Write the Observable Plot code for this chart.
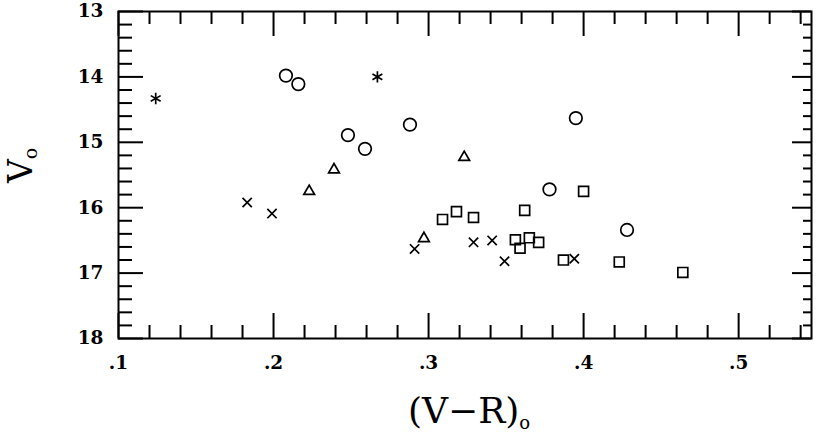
<!DOCTYPE html>
<html>
<head>
<meta charset="utf-8">
<script src="https://cdn.jsdelivr.net/npm/d3@7"></script>
<script src="https://cdn.jsdelivr.net/npm/@observablehq/plot@0.6"></script>
<style>
  html, body { margin: 0; padding: 0; background: white; }
</style>
</head>
<body>
<div id="chart"></div>
<script>
// ---- data ----
const asteriskX = [0.124, 0.267];
const asteriskY = [14.33, 14.00];
const circleX = [0.208, 0.216, 0.288, 0.248, 0.259, 0.395, 0.378, 0.428];
const circleY = [13.98, 14.11, 14.73, 14.89, 15.10, 14.63, 15.72, 16.34];
const triangleX = [0.239, 0.223, 0.323, 0.297];
const triangleY = [15.42, 15.75, 15.23, 16.47];
const timesX = [0.183, 0.199, 0.291, 0.329, 0.341, 0.349, 0.394];
const timesY = [15.92, 16.09, 16.63, 16.53, 16.50, 16.82, 16.78];
const squareX = [0.309, 0.318, 0.329, 0.362, 0.400, 0.356, 0.359, 0.365, 0.371, 0.387, 0.423, 0.464];
const squareY = [16.18, 16.06, 16.15, 16.04, 15.75, 16.49, 16.62, 16.46, 16.53, 16.80, 16.83, 16.99];

const xTicks = [0.1, 0.2, 0.3, 0.4, 0.5];
const xTickLabels = [".1", ".2", ".3", ".4", ".5"];
const yTicks = [13, 14, 15, 16, 17, 18];
const yTickLabels = ["13", "14", "15", "16", "17", "18"];
const xMinor = d3.range(0.12, 0.547, 0.02).filter(v => Math.abs(v * 10 - Math.round(v * 10)) > 1e-6);
const yMinor = d3.range(13.2, 18, 0.2).filter(v => Math.abs(v - Math.round(v)) > 1e-6);

// ---- build tables ----
const toRows = (xs, ys) => xs.map((x, i) => ({x, y: ys[i]}));
const groups = [
  {symbol: "asterisk", rows: toRows(asteriskX, asteriskY), r: 5.4},
  {symbol: "circle", rows: toRows(circleX, circleY), r: 6.3},
  {symbol: "triangle", rows: toRows(triangleX, triangleY), r: 4},
  {symbol: "times", rows: toRows(timesX, timesY), r: 4.3},
  {symbol: "square", rows: toRows(squareX, squareY), r: 5.6}
];

const W = 817, H = 433;
const mL = 118, mR = 6, mT = 11, mB = 95;
const pW = W - mL - mR, pH = H - mT - mB;

const tickStyle = {stroke: "black", strokeWidth: 2};

const svg = Plot.plot({
  width: W,
  height: H,
  marginLeft: mL,
  marginRight: mR,
  marginTop: mT,
  marginBottom: mB,
  style: {fontFamily: "DejaVu Serif", fontSize: "18.5px", background: "white", color: "black"},
  x: {domain: [0.1, 0.547], label: null},
  y: {domain: [13, 18], reverse: true, label: null},
  marks: [
    Plot.axisX(xTicks, {tickSize: 0, tickPadding: 17, tickFormat: d => xTickLabels[xTicks.indexOf(d)], fontSize: 18.5, fontWeight: "bold", label: null}),
    Plot.axisY(yTicks, {tickSize: 0, tickPadding: 15, tickFormat: d => yTickLabels[yTicks.indexOf(d)], fontSize: 18.5, fontWeight: "bold", label: null}),
    // top / bottom ticks
    Plot.tickX(xTicks, {x: d => d, insetBottom: pH - 25, ...tickStyle}),
    Plot.tickX(xMinor, {x: d => d, insetBottom: pH - 13, ...tickStyle}),
    Plot.tickX(xTicks, {x: d => d, insetTop: pH - 25, ...tickStyle}),
    Plot.tickX(xMinor, {x: d => d, insetTop: pH - 13, ...tickStyle}),
    // left / right ticks
    Plot.tickY(yTicks, {y: d => d, insetRight: pW - 25, ...tickStyle}),
    Plot.tickY(yMinor, {y: d => d, insetRight: pW - 14, ...tickStyle}),
    Plot.tickY(yTicks, {y: d => d, insetLeft: pW - 19, ...tickStyle}),
    Plot.tickY(yMinor, {y: d => d, insetLeft: pW - 8, ...tickStyle}),
    Plot.frame({stroke: "black", strokeWidth: 2}),
    ...groups.map(g => Plot.dot(g.rows, {x: "x", y: "y", symbol: g.symbol, r: g.r, stroke: "black", strokeWidth: 1.7, fill: "none"}))
  ]
});

// axis titles with subscripts
const s = d3.select(svg);
const xt = s.append("text")
  .attr("x", 408).attr("y", 423)
  .attr("text-anchor", "start")
  .attr("font-family", "DejaVu Serif")
  .attr("font-size", 36)
  .attr("fill", "black");
xt.append("tspan").text("(V\u2212R)");
xt.append("tspan").attr("font-size", 18).attr("dy", 6).text("o");

const yt = s.append("text")
  .attr("transform", "translate(32,183) rotate(-90)")
  .attr("text-anchor", "start")
  .attr("font-family", "DejaVu Serif")
  .attr("font-size", 33)
  .attr("fill", "black");
yt.append("tspan").text("V");
yt.append("tspan").attr("font-size", 19).attr("dy", 5).text("o");

document.getElementById("chart").appendChild(svg);
</script>
</body>
</html>
